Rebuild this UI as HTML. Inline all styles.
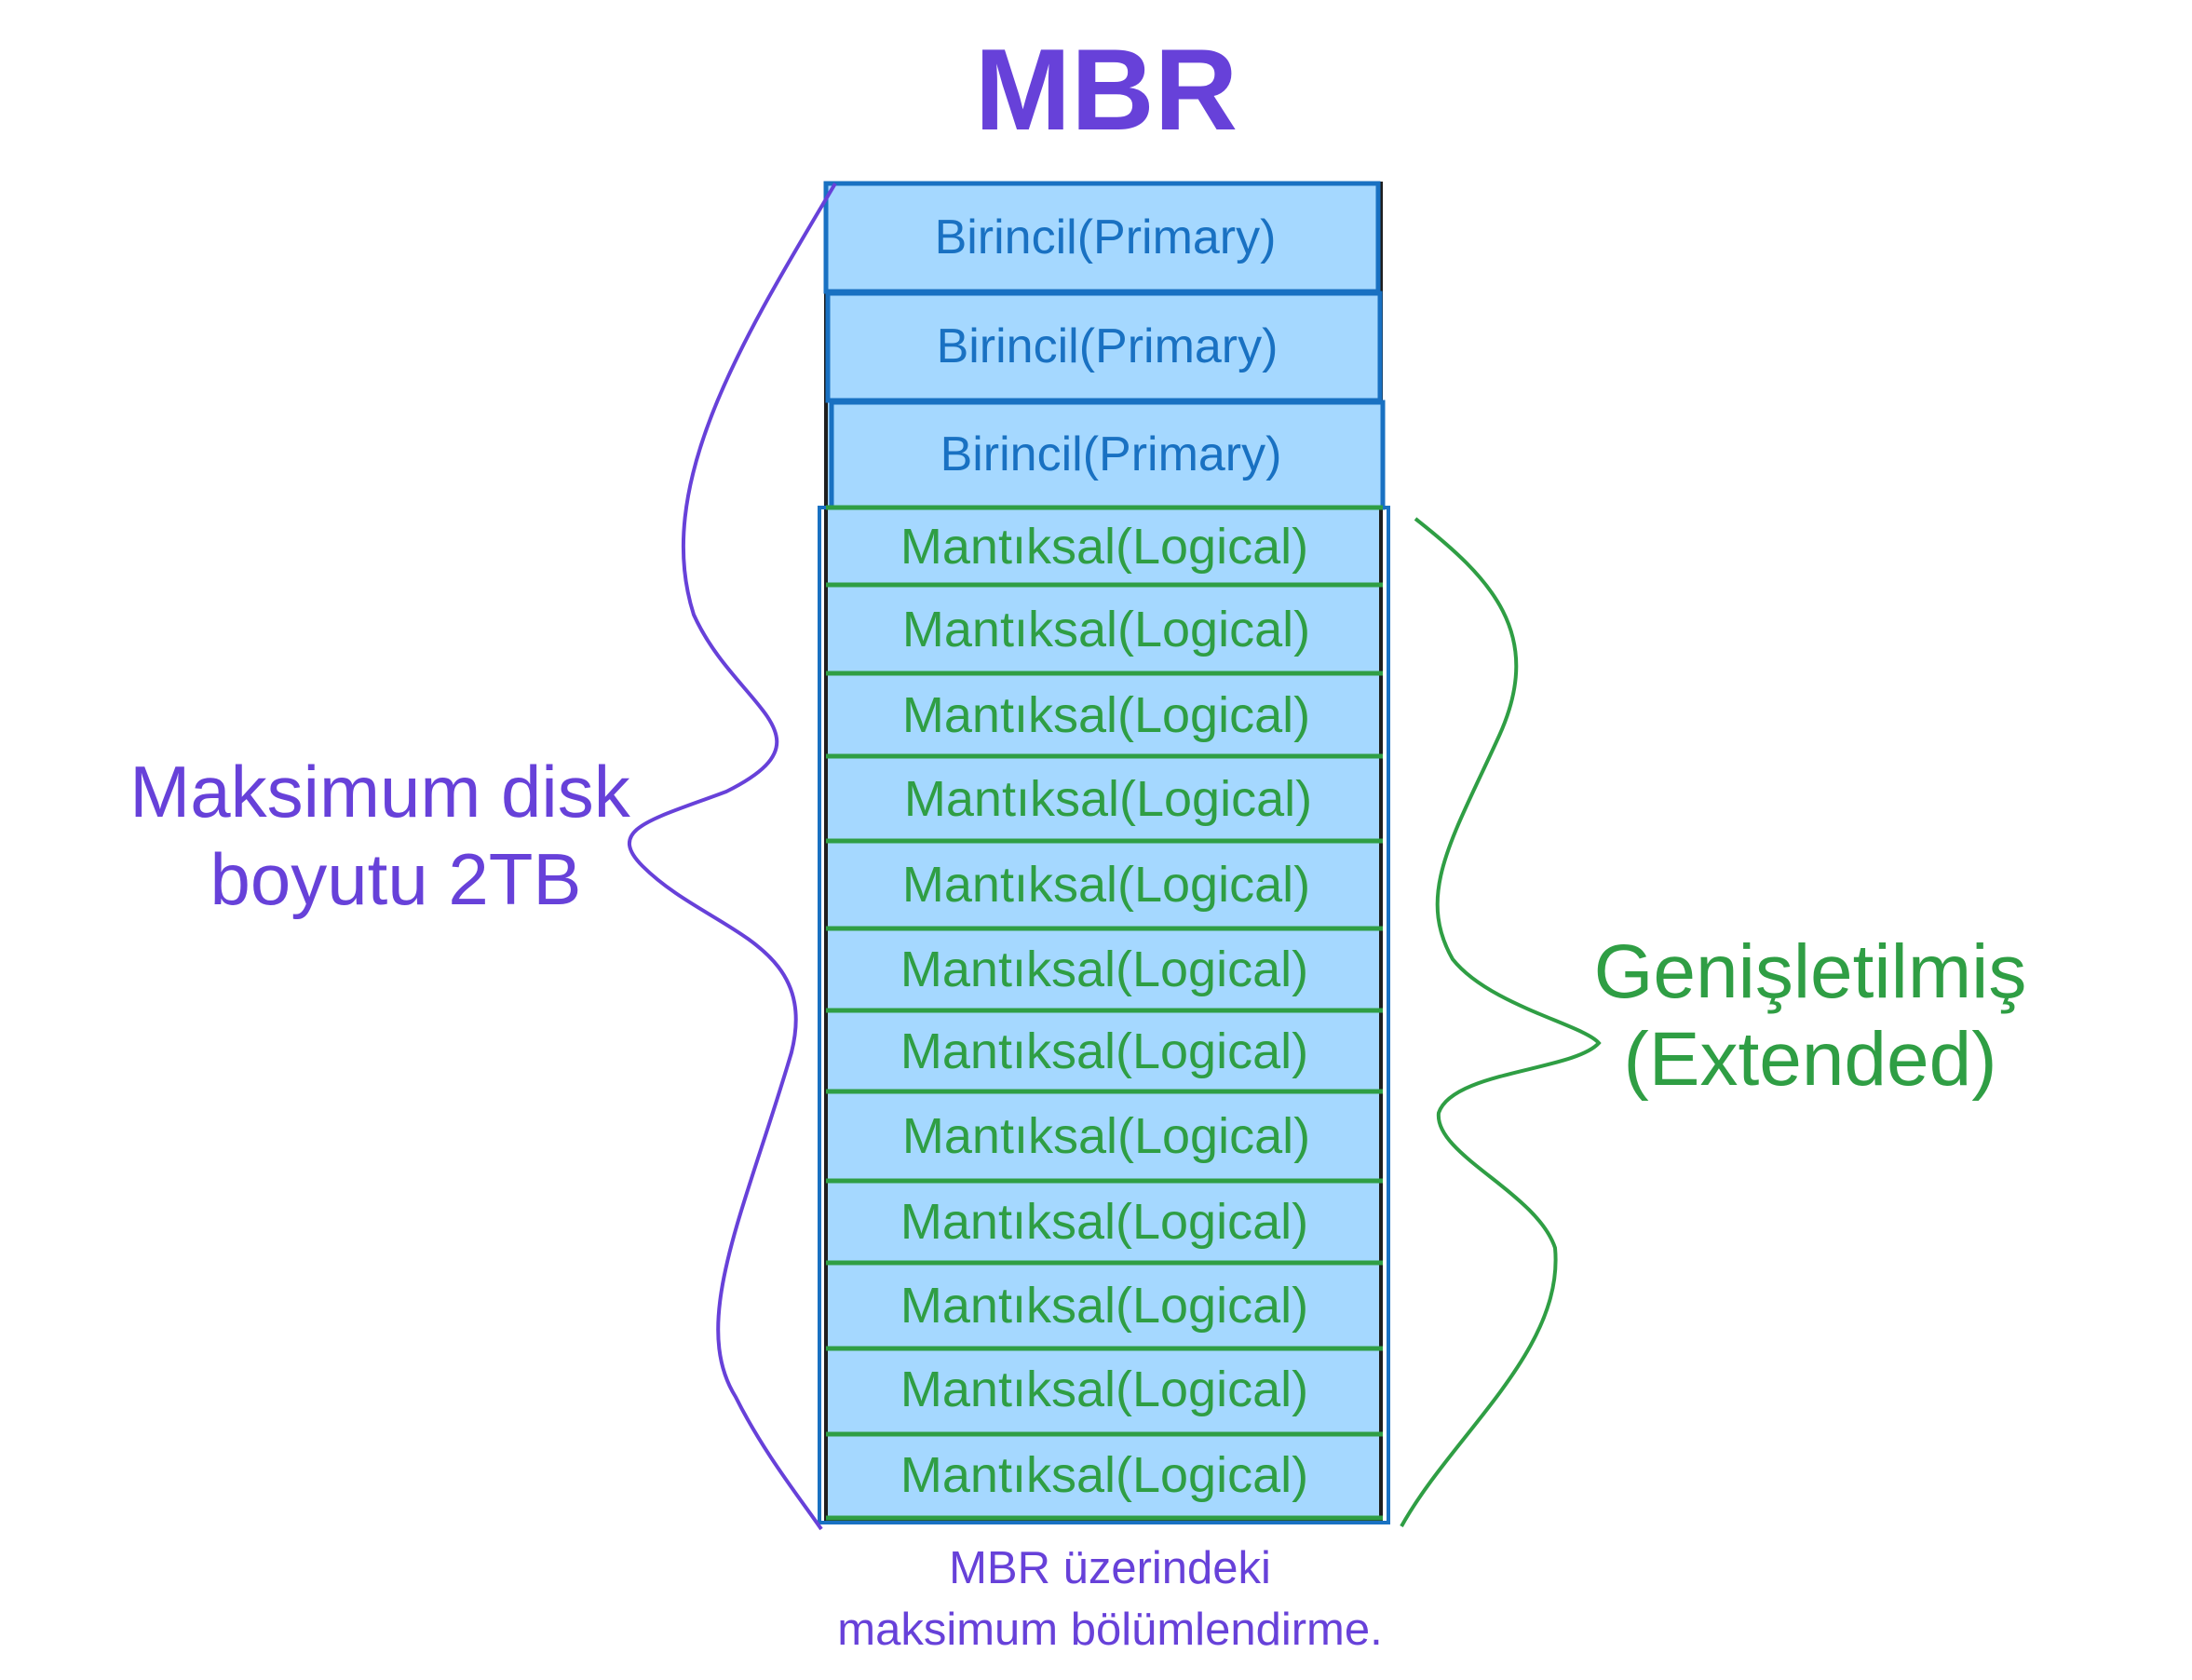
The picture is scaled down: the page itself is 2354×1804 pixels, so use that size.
<!DOCTYPE html>
<html><head><meta charset="utf-8"><style>
html,body{margin:0;padding:0;background:#fff;}
svg{display:block}
text{font-family:"Liberation Sans",sans-serif;}
</style></head><body>
<svg width="2354" height="1804" viewBox="0 0 2354 1804" xmlns="http://www.w3.org/2000/svg">
<rect width="2354" height="1804" fill="#fff"/>
<text x="1188" y="139" font-size="124" fill="#6741d9" text-anchor="middle" font-weight="bold">MBR</text>
<rect x="887" y="197" width="596" height="1435" fill="#a5d8ff" stroke="#1e1e1e" stroke-width="4"/>
<g fill="#a5d8ff" stroke="#1971c2" stroke-width="5">
<rect x="887" y="197" width="593" height="116"/>
<rect x="889" y="315" width="593" height="115"/>
<rect x="893" y="432" width="592" height="113"/>
</g>
<g font-size="52" fill="#1971c2" text-anchor="middle">
<text x="1187" y="272">Birincil(Primary)</text>
<text x="1189" y="389">Birincil(Primary)</text>
<text x="1193" y="505">Birincil(Primary)</text>
</g>
<rect x="880" y="545" width="611" height="1090" fill="none" stroke="#1971c2" stroke-width="4"/>
<g stroke="#2f9e44" stroke-width="5">
<line x1="887" y1="545" x2="1485" y2="545"/>
<line x1="887" y1="628" x2="1485" y2="628"/>
<line x1="887" y1="723" x2="1485" y2="723"/>
<line x1="887" y1="812" x2="1485" y2="812"/>
<line x1="887" y1="903" x2="1485" y2="903"/>
<line x1="887" y1="997" x2="1485" y2="997"/>
<line x1="887" y1="1085" x2="1485" y2="1085"/>
<line x1="887" y1="1172" x2="1485" y2="1172"/>
<line x1="887" y1="1268" x2="1485" y2="1268"/>
<line x1="887" y1="1356" x2="1485" y2="1356"/>
<line x1="887" y1="1448" x2="1485" y2="1448"/>
<line x1="887" y1="1540" x2="1485" y2="1540"/>
<line x1="887" y1="1630" x2="1485" y2="1630"/>
</g>
<g font-size="54" fill="#2f9e44" text-anchor="middle">
<text x="1186" y="605">Mantıksal(Logical)</text>
<text x="1188" y="694">Mantıksal(Logical)</text>
<text x="1188" y="786">Mantıksal(Logical)</text>
<text x="1190" y="876">Mantıksal(Logical)</text>
<text x="1188" y="968">Mantıksal(Logical)</text>
<text x="1186" y="1059">Mantıksal(Logical)</text>
<text x="1186" y="1147">Mantıksal(Logical)</text>
<text x="1188" y="1238">Mantıksal(Logical)</text>
<text x="1186" y="1330">Mantıksal(Logical)</text>
<text x="1186" y="1420">Mantıksal(Logical)</text>
<text x="1186" y="1510">Mantıksal(Logical)</text>
<text x="1186" y="1602">Mantıksal(Logical)</text>
</g>
<path d="M897,197 C800,360 700,520 745,660 C790,760 900,790 780,850 C700,880 650,890 690,930 C760,1000 880,1010 850,1130 C800,1300 740,1420 790,1500 C820,1560 860,1610 882,1642" fill="none" stroke="#6741d9" stroke-width="4"/>
<path d="M1520,557 C1600,620 1660,680 1610,790 C1560,900 1520,960 1560,1030 C1600,1080 1700,1100 1717,1120 C1690,1150 1560,1150 1545,1195 C1540,1240 1650,1280 1670,1340 C1680,1450 1560,1540 1505,1639" fill="none" stroke="#2f9e44" stroke-width="4"/>
<g font-size="78" fill="#6741d9" text-anchor="middle">
<text x="408" y="877">Maksimum disk</text>
<text x="425" y="971">boyutu 2TB</text>
</g>
<g font-size="82" fill="#2f9e44" text-anchor="middle">
<text x="1944" y="1071">Genişletilmiş</text>
<text x="1944" y="1165">(Extended)</text>
</g>
<g font-size="49" fill="#6741d9" text-anchor="middle">
<text x="1192" y="1700">MBR üzerindeki</text>
<text x="1192" y="1766">maksimum bölümlendirme.</text>
</g>
</svg>
</body></html>
